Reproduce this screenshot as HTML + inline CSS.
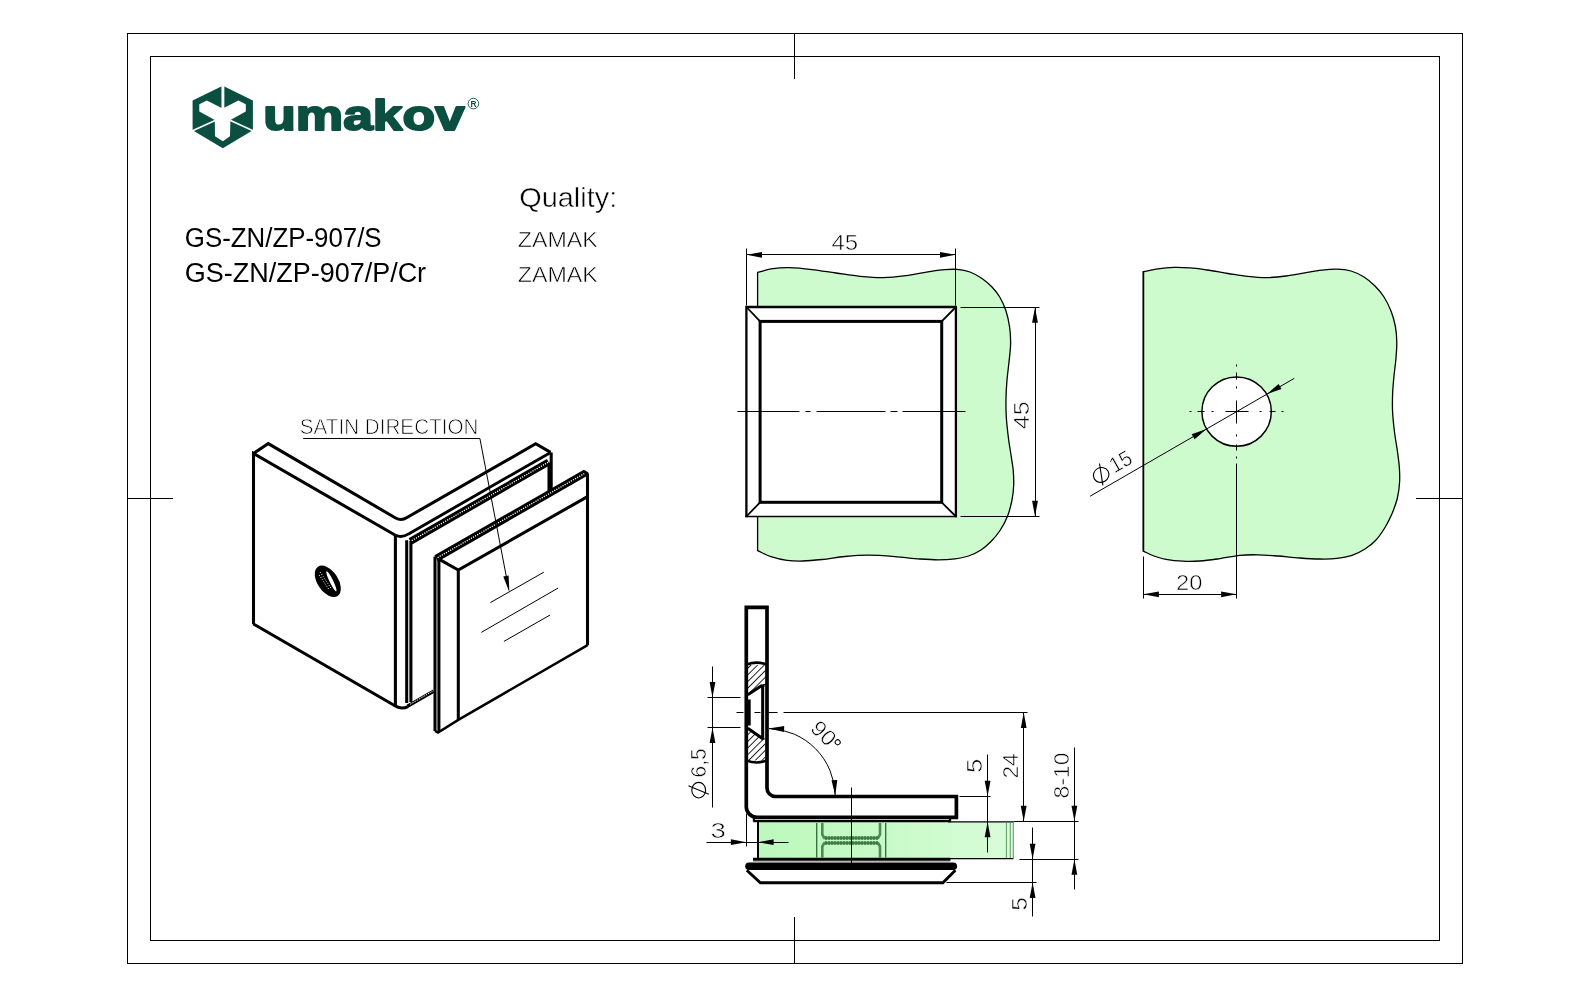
<!DOCTYPE html>
<html>
<head>
<meta charset="utf-8">
<title>GS-ZN/ZP-907</title>
<style>
html,body{margin:0;padding:0;background:#fff;}
body{width:1590px;height:997px;overflow:hidden;position:relative;font-family:"Liberation Sans",sans-serif;}
svg{position:absolute;left:0;top:0;display:block;will-change:transform;}
text{font-family:"Liberation Sans",sans-serif;fill:#000;}
.k{fill:none;stroke:#000;stroke-width:3.05;stroke-linecap:butt;stroke-linejoin:miter;}
.m{fill:none;stroke:#000;stroke-width:1.6;}
.t{fill:none;stroke:#000;stroke-width:1;}
.f{fill:none;stroke:#000;stroke-width:1;shape-rendering:crispEdges;}
.ah{fill:#000;stroke:none;}
.dim{stroke:#fff;stroke-width:0.55px;paint-order:fill stroke;}
.glass{fill:#cdfbcd;stroke:#000;stroke-width:1.3;}
</style>
</head>
<body>
<svg width="1590" height="997" viewBox="0 0 1590 997">
<!-- FRAME -->
<g id="frame">
<rect class="f" x="127.5" y="33.5" width="1335" height="930"/>
<rect class="f" x="150.5" y="56.5" width="1289" height="884"/>
<path class="f" d="M794.5 33.5V79 M794.5 917V963.5 M127.5 498.5H173 M1416 498.5H1462.5"/>
</g>
<!-- LOGO -->
<g id="logo">
<polygon fill="#0b4f41" points="222.8,85.8 252.9,100.4 252.9,130.3 222.8,148.2 192.6,130.3 192.6,100.4"/>
<polygon fill="#fff" points="222.7,108.4 238.4,100.4 245.8,104.2 245.8,111.6 230.4,120 230,136.2 222.9,141.2 215,136.2 214.8,120 199.3,111.6 199.3,104.2 206.8,100.6"/>
<path d="M222.9 85V117" stroke="#fff" stroke-width="2.9" fill="none"/>
<path d="M222.9 117L192 131 M222.9 117L253.6 131" stroke="#fff" stroke-width="1.7" fill="none"/>
<text x="263.2" y="130" font-size="43" font-weight="bold" textLength="201.5" lengthAdjust="spacingAndGlyphs" style="fill:#0b4f41;stroke:#0b4f41;stroke-width:2px;stroke-linejoin:round">umakov</text>
<circle cx="473.4" cy="103.6" r="5.3" fill="none" stroke="#0b4f41" stroke-width="0.9"/>
<text x="470.6" y="106.6" font-size="8.4" font-weight="bold" style="fill:#0b4f41">R</text>
</g>
<!-- TEXT -->
<g id="labels">
<text x="184.8" y="246.8" font-size="27" textLength="196.8" lengthAdjust="spacingAndGlyphs">GS-ZN/ZP-907/S</text>
<text x="184.8" y="281.5" font-size="27" textLength="241.3" lengthAdjust="spacingAndGlyphs">GS-ZN/ZP-907/P/Cr</text>
<text x="519.2" y="206.9" font-size="27.4" textLength="98" lengthAdjust="spacingAndGlyphs" style="stroke:#fff;stroke-width:0.45px;paint-order:fill stroke">Quality:</text>
<text x="517.8" y="247" font-size="22.8" textLength="80" lengthAdjust="spacingAndGlyphs" style="stroke:#fff;stroke-width:0.55px;paint-order:fill stroke">ZAMAK</text>
<text x="517.8" y="281.9" font-size="22.8" textLength="80" lengthAdjust="spacingAndGlyphs" style="stroke:#fff;stroke-width:0.55px;paint-order:fill stroke">ZAMAK</text>
<text x="299.8" y="433.8" font-size="21.6" textLength="178.6" lengthAdjust="spacingAndGlyphs" style="stroke:#fff;stroke-width:0.75px;paint-order:fill stroke">SATIN DIRECTION</text>
</g>
<!-- ISO -->
<g id="iso">
<!-- left plate -->
<path class="k" d="M253.5 624.3V453.5L395.4 535.3 M253.5 624L395.4 706"/>
<path class="k" d="M253.5 453.5L268.3 443.6L395.6 518 Q401.3 521.2 407 517.5L535.7 443.8L550.6 452.4"/>
<path class="k" d="M395.4 535.3V706 Q401.5 709.6 408 706.6" />
<path style="stroke-width:2.9" class="k" d="M395.4 535.3Q402 538.3 408.6 533.9L550.6 452.4"/>
<path class="k" d="M551.2 452.4V489.5 M549 462.5V491"/>
<!-- gasket on back plate -->
<path d="M410.4 541.4L548.6 462" stroke="#000" stroke-width="7" fill="none"/>
<path d="M411.8 540.6L548.6 462" stroke="#fff" stroke-width="1.3" stroke-dasharray="1.2 1.2" fill="none"/>
<path class="k" d="M406.7 540.3V703 M410.9 541V702"/>
<path d="M407.5 706.3L434 691" stroke="#000" stroke-width="3.4" fill="none"/><path d="M410 704.3L434 690.4" stroke="#fff" stroke-width="0.9" stroke-dasharray="1.6 1" fill="none"/>
<!-- hole -->
<g transform="translate(327.8 581.3) rotate(56)">
<ellipse cx="0" cy="0" rx="17.6" ry="10.3" fill="#000"/>
<ellipse cx="2" cy="-3" rx="11.2" ry="1.8" fill="#fff" transform="rotate(8 2 -3)"/>
<path d="M-12 1.2H9 M-10 3.6H7" stroke="#fff" stroke-width="0.9" stroke-dasharray="1 1.6" fill="none"/>
</g>
<!-- front plate -->
<path d="M436.2 558.4L585.6 472.8" stroke="#000" stroke-width="7" fill="none"/>
<path d="M437.6 557.6L585.6 472.8" stroke="#fff" stroke-width="1.3" stroke-dasharray="1.2 1.2" fill="none"/>
<path class="k" d="M583.8 471.2L587.8 474 M587.5 473.5V645.3"/>
<path class="k" d="M435 556.5V731 M438.9 559.2V731.4"/>
<path class="k" d="M439.8 559.6L458.3 570.1L587.5 496.6" />
<path class="k" d="M458.3 570.1V719.9"/>
<path style="stroke-width:2.4" class="k" d="M435 731L438 732.6L458.3 719.9L587.6 645.1"/>
<!-- satin lines + leader -->
<path class="t" d="M303.2 438.5H479.9L506.6 578"/>
<polygon class="ah" points="509.4,592.3 503.3,576.6 508.6,575.6"/>
<path class="t" d="M490.4 602.6L543.8 572.2 M481.3 632.4L558.2 588 M503.9 641.4L550.1 615"/>
</g>
<!-- TOPVIEW -->
<g id="topview">
<path class="glass" d="M757.6 272.3C762.7 271.1 767.8 269.5 773.0 268.7C778.3 267.9 783.7 267.6 789.0 267.7C796.7 267.9 804.4 268.7 812.0 269.6C820.0 270.5 828.0 271.9 836.0 273.0C844.0 274.1 852.0 275.5 860.0 276.3C867.6 277.0 875.3 277.7 883.0 277.6C890.7 277.5 898.4 276.6 906.0 275.6C913.4 274.6 920.6 272.9 928.0 271.8C933.6 270.9 939.3 270.1 945.0 269.6C949.0 269.3 953.0 269.0 957.0 269.4C961.4 269.8 965.8 270.5 970.0 272.0C974.3 273.6 978.2 275.9 982.0 278.5C985.6 281.0 989.0 283.8 992.0 287.0C995.0 290.2 997.8 293.7 1000.0 297.5C1002.5 301.8 1004.5 306.3 1006.0 311.0C1007.7 316.2 1008.8 321.6 1009.6 327.0C1010.4 332.6 1010.7 338.3 1010.6 344.0C1010.5 350.0 1009.6 356.0 1009.0 362.0C1008.4 368.0 1007.5 374.0 1007.0 380.0C1006.5 386.0 1006.1 392.0 1006.0 398.0C1005.9 404.3 1005.9 410.7 1006.3 417.0C1006.7 423.7 1007.5 430.4 1008.3 437.0C1009.0 443.0 1010.1 449.0 1011.0 455.0C1011.7 460.0 1012.7 465.0 1013.2 470.0C1013.6 475.0 1013.9 480.0 1013.7 485.0C1013.5 490.0 1013.0 495.1 1012.0 500.0C1010.9 505.4 1009.6 510.9 1007.6 516.0C1005.6 521.1 1003.0 525.9 1000.0 530.5C997.4 534.5 994.3 538.1 991.0 541.5C987.9 544.6 984.7 547.6 981.0 550.0C977.1 552.5 972.9 554.5 968.5 556.0C964.1 557.5 959.6 558.2 955.0 558.8C949.4 559.5 943.7 559.8 938.0 559.8C932.0 559.8 926.0 559.4 920.0 559.0C911.7 558.4 903.3 557.2 895.0 556.6C886.0 555.9 877.0 555.2 868.0 555.2C860.3 555.2 852.6 555.8 845.0 556.5C837.3 557.2 829.7 558.7 822.0 559.5C815.7 560.2 809.4 560.9 803.0 561.0C797.7 561.1 792.3 561.0 787.0 560.3C781.6 559.6 776.2 558.3 771.0 556.6C766.4 555.1 762.1 552.7 757.6 550.7Z"/>
<rect x="746.4" y="307" width="209.4" height="209.4" fill="#fff" stroke="none"/>
<path d="M746.4 517.2V307H955.9V517.2" fill="none" stroke="#000" stroke-width="2.3"/>
<path d="M745.3 516.5H957" fill="none" stroke="#000" stroke-width="1.7"/>
<rect x="760.1" y="321.4" width="181.6" height="180.9" fill="none" stroke="#000" stroke-width="3"/>
<path style="stroke-width:1.8" class="m" d="M746.4 307L760.1 321.4 M955.9 307L941.7 321.4 M746.4 516.5L760.1 502.3 M955.9 516.5L941.7 502.3"/>
<path class="t" d="M737.5 411.5H799.5M805.5 411.5H810.5M816.5 411.5H885.5M890.5 411.5H897.5M902.5 411.5H965.5"/>
<path class="t" d="M746.5 248.5V305.5 M955.5 248.5V305.5 M746.5 254.5H955.5"/>
<polygon class="ah" points="746.5,254.8 762.0,251.9 762.0,257.7"/><polygon class="ah" points="955.5,254.8 940.0,257.7 940.0,251.9"/>
<text class="dim" x="831.5" y="249.7" font-size="21.8" textLength="26.7" lengthAdjust="spacingAndGlyphs">45</text>
<path class="t" d="M960.5 307.5H1039.5 M960.5 516.5H1039.5 M1035.5 307.5V516.5"/>
<polygon class="ah" points="1035.0,307.2 1037.9,322.7 1032.1,322.7"/><polygon class="ah" points="1035.0,516.3 1032.1,500.8 1037.9,500.8"/>
<text class="dim" transform="translate(1029.4 429.2) rotate(-90)" font-size="21.8" textLength="28.0" lengthAdjust="spacingAndGlyphs">45</text>
</g>
<!-- GLASSVIEW -->
<g id="glassview">
<path class="glass" d="M1143.4 271.7C1148.3 270.7 1153.1 269.5 1158.0 268.8C1163.3 268.1 1168.6 267.6 1174.0 267.4C1179.3 267.2 1184.7 267.5 1190.0 267.9C1195.7 268.3 1201.4 269.2 1207.0 270.0C1214.0 271.0 1221.0 272.4 1228.0 273.5C1234.7 274.5 1241.3 275.7 1248.0 276.4C1254.3 277.1 1260.7 277.7 1267.0 277.6C1273.4 277.5 1279.7 276.8 1286.0 276.0C1292.7 275.2 1299.3 273.8 1306.0 272.7C1311.3 271.8 1316.6 270.8 1322.0 270.2C1327.0 269.6 1332.0 269.1 1337.0 269.2C1341.7 269.3 1346.5 269.7 1351.0 271.0C1355.6 272.3 1360.0 274.5 1364.0 277.0C1368.0 279.5 1371.7 282.7 1375.0 286.0C1378.3 289.3 1381.4 293.0 1384.0 297.0C1386.8 301.4 1389.1 306.1 1391.0 311.0C1392.9 315.8 1394.3 320.9 1395.3 326.0C1396.3 331.3 1396.7 336.6 1396.8 342.0C1396.9 347.3 1396.4 352.7 1396.0 358.0C1395.5 364.0 1394.6 370.0 1394.0 376.0C1393.4 382.0 1392.8 388.0 1392.6 394.0C1392.4 400.0 1392.3 406.0 1392.6 412.0C1392.9 418.7 1393.7 425.4 1394.5 432.0C1395.3 438.4 1396.5 444.7 1397.4 451.0C1398.1 456.3 1398.9 461.6 1399.3 467.0C1399.7 472.0 1399.9 477.0 1399.6 482.0C1399.3 487.4 1398.6 492.8 1397.4 498.0C1396.2 503.1 1394.3 508.1 1392.3 513.0C1390.2 518.0 1387.8 522.9 1385.0 527.5C1382.2 532.1 1379.2 536.6 1375.5 540.5C1372.4 543.8 1368.8 546.6 1365.0 549.0C1360.9 551.6 1356.6 553.8 1352.0 555.3C1347.2 556.9 1342.1 557.8 1337.0 558.4C1331.4 559.1 1325.7 559.1 1320.0 559.0C1313.3 558.9 1306.7 558.5 1300.0 558.0C1292.7 557.5 1285.3 556.6 1278.0 556.0C1271.3 555.5 1264.7 554.9 1258.0 554.8C1252.0 554.7 1246.0 554.7 1240.0 555.3C1233.3 556.0 1226.7 557.6 1220.0 558.6C1213.4 559.5 1206.7 560.5 1200.0 561.0C1194.3 561.4 1188.7 561.5 1183.0 561.2C1177.3 560.9 1171.6 560.3 1166.0 559.3C1161.9 558.6 1157.9 557.4 1154.0 556.0C1150.3 554.7 1146.9 552.8 1143.4 551.2Z"/>
<path d="M1143.4 271V551.5" fill="none" stroke="#000" stroke-width="1.6"/>
<circle cx="1236.6" cy="411.6" r="34.7" fill="#fff" stroke="#000" stroke-width="1.45"/>
<path class="t" d="M1189.5 411.5H1191.5M1197.5 411.5H1204.5M1211.5 411.5H1213.5M1225.5 411.5H1248.5M1259.5 411.5H1261.5M1269.5 411.5H1275.5M1281.5 411.5H1283.5"/>
<path class="t" d="M1236.5 364.5V366.5M1236.5 372.5V379.5M1236.5 386.5V388.5M1236.5 400.5V423.5M1236.5 434.5V436.5M1236.5 444.5V450.5M1236.5 456.5V458.5M1236.5 463.5V598.5"/>
<path class="t" d="M1143.5 556.5V598.5 M1143.5 594.5H1236.5"/>
<polygon class="ah" points="1143.4,594.3 1158.9,591.4 1158.9,597.2"/><polygon class="ah" points="1236.6,594.3 1221.1,597.2 1221.1,591.4"/>
<text class="dim" x="1176.1" y="589.8" font-size="21.8" textLength="26.4" lengthAdjust="spacingAndGlyphs">20</text>
<path class="t" d="M1090.1 496.2L1294.2 378.4"/>
<polygon class="ah" points="1206.5,429.0 1194.6,439.2 1191.7,434.2"/><polygon class="ah" points="1266.7,394.2 1278.6,384.0 1281.5,389.0"/>
<g transform="translate(1097.3 484.9) rotate(-30)"><ellipse cx="8.3" cy="-6.7" rx="7.9" ry="7.3" style="stroke-width:1.1" class="t"/><path style="stroke-width:1.1" class="t" d="M4.6 3.2L12.6 -17.4"/><text class="dim" x="20.5" y="-1.2" font-size="21.8" textLength="22.5" lengthAdjust="spacingAndGlyphs">15</text></g>
</g>
<!-- SECTION -->
<g id="section">
<defs><linearGradient id="gg" x1="0" x2="1" y1="0" y2="0"><stop offset="0" stop-color="#bdf8bd"/><stop offset="0.45" stop-color="#c6fac6"/><stop offset="1" stop-color="#d9fcd9"/></linearGradient><pattern id="hat" width="4.7" height="4.7" patternUnits="userSpaceOnUse" patternTransform="rotate(-45 748 690)"><path d="M-1 2.35H6" stroke="#000" stroke-width="0.85"/></pattern></defs>
<rect x="757.7" y="822" width="255.8" height="36.6" fill="url(#gg)"/>
<path d="M948 821.8H1013.5 M948 858.6H1013.5" stroke="#000" stroke-width="1.2" fill="none"/>
<path d="M1006.4 822.5V858 M1010.3 822.5V858 M1013.3 822V858.6" stroke="#5e9a62" stroke-width="1" fill="none"/>
<path d="M816.7 823V857.5 M885.7 823V857.5" stroke="#2f6b3a" stroke-width="1.3" fill="none"/>
<path d="M822.3 823V834.5L824.3 838H878L880 834.5V823 M822.3 857.5V846.5L824.3 843H878L880 846.5V857.5" stroke="#4d8a55" stroke-width="2.6" fill="none" stroke-linejoin="round"/>
<path d="M825 838H878 M825 843H878" stroke="#3f7a48" stroke-width="3.3" stroke-dasharray="2.2 0.8" fill="none"/>
<polygon points="747.6,665 765.4,665 765.4,685.2 762,685.2 747.6,695" fill="url(#hat)"/>
<polygon points="747.6,728 763.5,739.3 765.4,739.3 765.4,760.5 747.6,760.5" fill="url(#hat)"/>
<path style="stroke-width:3.7" class="k" d="M746.3 806.6V607.3H767V787.9 A8.6 8.6 0 0 0 775.6 796.5H956.4V817.3H756.8A10.5 10.5 0 0 1 746.3 806.6Z"/>
<path style="stroke-width:2.6" class="k" d="M746.3 664.6Q756.6 660.6 767 664.6 M746.3 760.4Q756.6 764.6 767 760.4"/>
<path style="stroke-width:2.9" class="k" d="M747.8 694.8L762.2 685.2 M747.8 728.2L763.4 739.2 M762.6 685V739.4"/>
<path class="t" d="M764.5 685.5V739.5 M762.5 684.5H767.5" />
<rect x="745" y="699.5" width="5.7" height="26" fill="#000"/>
<path d="M764.5 686.5V738.5" stroke="#fff" stroke-width="0.8" fill="none"/>
<path d="M753.4 821.2H950.4 M754 817V821.5 M950 817V821.5" stroke="#000" stroke-width="2.3" fill="none"/>
<path d="M758 820V859" stroke="#000" stroke-width="2" fill="none"/>
<path d="M753 859.2H950.5" stroke="#000" stroke-width="3" fill="none"/>
<path d="M749 866.2H953.3" stroke="#000" stroke-width="7.6" stroke-linecap="round" fill="none"/>
<path d="M753 861.6H950" stroke="#999" stroke-width="0.8" fill="none"/>
<path style="stroke-width:2.9" class="k" d="M746.8 870.2L760.4 882.7H942.9L955.4 870.2"/>
<path class="t" d="M851.5 787.5V868.5"/>
<path class="t" d="M736.5 712.5H743.5M754.5 712.5H760.5M768.5 712.5H777.5M783.5 712.5H1027.5"/>
<path class="t" d="M712.5 666.5V807.5 M707.5 697.5H740.5 M707.5 727.5H740.5"/>
<polygon class="ah" points="712.5,697.4 709.6,681.9 715.4,681.9"/><polygon class="ah" points="712.5,727.5 715.4,743.0 709.6,743.0"/>
<g transform="translate(705.9 798.4) rotate(-90)"><ellipse cx="8.2" cy="-7.2" rx="7.8" ry="6.9" style="stroke-width:1.1" class="t"/><path style="stroke-width:1.1" class="t" d="M4.2 3L12.7 -17.5"/><text class="dim" x="21" y="0" font-size="21.8" textLength="29" lengthAdjust="spacingAndGlyphs">6,5</text></g>
<path class="t" d="M706.5 842.5H788.5 M746.5 813.5V846.5"/>
<polygon class="ah" points="746.4,842.2 730.9,845.1 730.9,839.3"/><polygon class="ah" points="758.1,842.2 773.6,839.3 773.6,845.1"/>
<text class="dim" x="710.4" y="837.9" font-size="21.8" textLength="15.4" lengthAdjust="spacingAndGlyphs">3</text>
<path class="t" d="M769 728.6A68 68 0 0 1 835.2 795.5"/>
<polygon class="ah" points="768.6,728.5 784.2,726.1 784.0,731.9"/><polygon class="ah" points="835.3,795.6 831.5,780.3 837.3,780.0"/>
<g transform="translate(810.2 730.3) rotate(45)"><text class="dim" x="-1.2" y="0" font-size="21.8" textLength="25.6" lengthAdjust="spacingAndGlyphs">90</text><circle cx="27.9" cy="-11" r="2.5" class="t"/></g>
<path class="t" d="M987.5 754.5V852.5 M959.5 796.5H990.5"/>
<polygon class="ah" points="987.6,796.2 984.7,780.7 990.5,780.7"/><polygon class="ah" points="987.6,821.8 990.5,837.3 984.7,837.3"/>
<text class="dim" transform="translate(981.8 773.0) rotate(-90)" font-size="21.8" textLength="14.3" lengthAdjust="spacingAndGlyphs">5</text>
<path class="t" d="M1023.5 712.5V821.5 M1013.5 821.5H1078.5"/>
<polygon class="ah" points="1023.7,712.4 1026.6,727.9 1020.8,727.9"/><polygon class="ah" points="1023.7,821.3 1020.8,805.8 1026.6,805.8"/>
<text class="dim" transform="translate(1017.9 778.6) rotate(-90)" font-size="21.8" textLength="25.3" lengthAdjust="spacingAndGlyphs">24</text>
<path class="t" d="M1032.5 827.5V916.5 M1019.5 859.5H1078.5 M946.5 882.5H1036.5"/>
<polygon class="ah" points="1032.6,859.2 1029.7,843.7 1035.5,843.7"/><polygon class="ah" points="1032.6,882.6 1035.5,898.1 1029.7,898.1"/>
<text class="dim" transform="translate(1026.6 910.8) rotate(-90)" font-size="21.8" textLength="13.6" lengthAdjust="spacingAndGlyphs">5</text>
<path class="t" d="M1074.5 747.5V889.5"/>
<polygon class="ah" points="1074.4,821.3 1071.5,805.8 1077.3,805.8"/><polygon class="ah" points="1074.4,859.2 1077.3,874.7 1071.5,874.7"/>
<text class="dim" transform="translate(1069.0 798.4) rotate(-90)" font-size="21.8" textLength="46.0" lengthAdjust="spacingAndGlyphs">8-10</text>
</g>
</svg>
</body>
</html>
